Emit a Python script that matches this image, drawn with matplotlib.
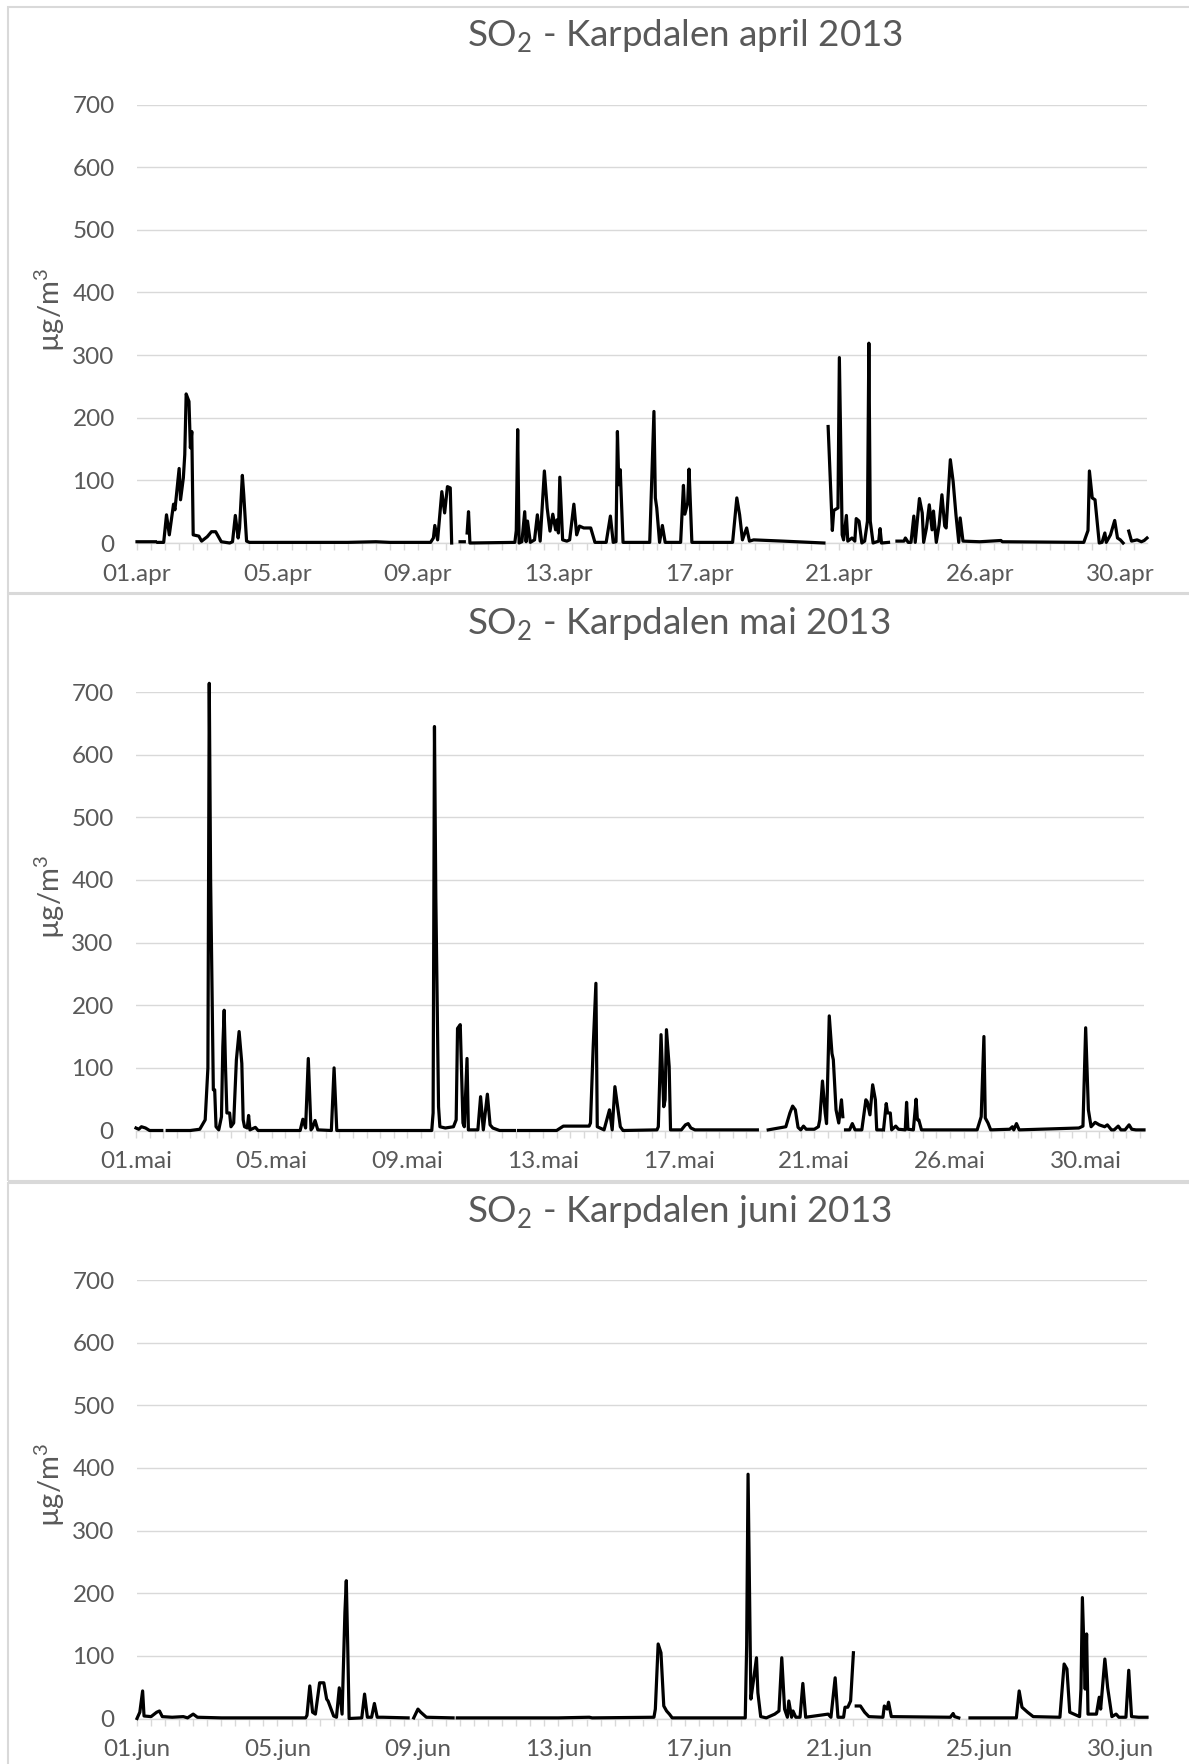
import numpy as np
import matplotlib
matplotlib.use("Agg")
import matplotlib.pyplot as plt
from matplotlib.patches import Rectangle

plt.rcParams['font.family'] = ['Lato', 'DejaVu Sans']

NA = np.nan

# ---------------- data (hour index from start of month, SO2 in ug/m3) ----------------
apr_hour = [0, 13, 14, 15, 19, 21, 23, 26, 27, 30, 31, 33, 34, 35, 37, 38, 39, 40, 44, 46, 50, 53, 56, 60,
            66, 68, 70, 72, 73, 75, 76, 78, 80, 150, 170, 180, 209, 211, 212, 214, 217, 219, 221, 223, 224,
            225, 230, 233, 234, 235, 236, 237, 269, 270, 271, 272, 274, 276, 277, 278, 280, 283, 285, 287,
            290, 292, 294, 296, 298, 299, 300, 301, 303, 306, 308, 311, 313, 315, 318, 323, 326, 334, 337,
            339, 341, 342, 343, 344, 346, 365, 368, 369, 370, 372, 374, 376, 387, 389, 390, 392, 393, 395,
            424, 427, 429, 431, 434, 436, 439, 460, 489, 490, 492, 495, 496, 499, 500, 502, 503, 505, 506,
            509, 511, 512, 514, 516, 518, 520, 521, 522, 524, 528, 529, 530, 535, 536, 541, 546, 547, 549,
            551, 553, 554, 557, 559, 560, 562, 564, 566, 567, 569, 571, 573, 575, 576, 579, 581, 583, 585,
            586, 588, 600, 615, 616, 674, 677, 678, 680, 682, 685, 687, 689, 690, 693, 696, 698, 700, 702,
            703, 706, 708, 712, 715, 717, 719]
apr_so2 = [2, 2, NA, 1, 1, 45, 13, 62, 53, 119, 69, 104, 141, 238, 226, 152, 178, 13, 11, 3, 10, 18, 18, 2,
           0, 2, 44, 8, 24, 108, 77, 3, 1, 1, 2, 1, 1, 8, 28, 5, 82, 48, 90, 88, 0,
           NA, 2, 2, NA, 16, 50, 0, 1, 20, 181, 0, 2, 50, 2, 35, 1, 5, 45, 3,
           115, 56, 19, 46, 21, 37, 16, 105, 5, 3, 5, 62, 13, 27, 24, 24, 1, 1, 43,
           1, 2, 178, 93, 117, 1, 1, 210, 72, 56, 1, 28, 1, 1, 92, 46, 64, 118, 1,
           1, 72, 45, 5, 24, 3, 5, 3, 0, NA, 186, 20, 52, 56, 296, 13, 5, 44, 3,
           8, 3, 39, 35, 0, 3, 35, 319, 35, 0, 3, 23, 0, 1, NA, 3, 3, 8, 1,
           1, 43, 1, 71, 48, 1, 24, 61, 21, 51, 1, 29, 77, 27, 24, 133, 98, 45, 1,
           40, 3, 2, 4, 2, 1, 20, 115, 72, 69, 0, 1, 16, 1, 13, 36, 8, 5, 0,
           NA, 19, 3, 5, 2, 4, 8]

mai_hour = [0, 2, 4, 7, 10, 19, 20, 23, 40, 47, 51, 53, 54, 55, 57, 58, 59, 61, 63, 64, 65, 66, 67, 69,
            70, 72, 74, 76, 78, 79, 80, 82, 83, 84, 88, 90, 121, 123, 125, 127, 129, 130, 132, 134, 144,
            146, 148, 218, 219, 220, 221, 223, 224, 228, 234, 236, 237, 239, 241, 242, 244, 245, 252, 254,
            256, 259, 261, 263, 268, 279, 280, 282, 310, 315, 334, 335, 337, 339, 340, 345, 349, 351, 353,
            355, 357, 359, 384, 385, 387, 389, 390, 391, 393, 394, 402, 405, 407, 409, 412, 458, 459, 466,
            474, 479, 482, 484, 486, 488, 490, 492, 494, 500, 503, 504, 506, 508, 509, 511, 513, 514, 516,
            518, 520, 521, 522, 523, 526, 528, 530, 535, 538, 539, 541, 543, 545, 546, 549, 550, 551, 553,
            554, 556, 557, 560, 562, 567, 568, 569, 573, 575, 576, 577, 579, 620, 623, 625, 626, 628, 630,
            644, 646, 647, 649, 651, 695, 698, 700, 702, 704, 707, 710, 714, 716, 719, 721, 724, 726, 729,
            732, 734, 737, 743]
mai_so2 = [4, 2, 6, 4, 0, 0, NA, 0, 0, 2, 17, 100, 714, 400, 65, 65, 6, 1, 22, 134, 192, 100, 28, 28,
           6, 12, 113, 158, 107, 17, 6, 4, 24, 1, 5, 0, 0, 18, 4, 115, 1, 4, 16, 1, 0,
           100, 0, 0, 28, 645, 373, 38, 6, 4, 6, 17, 163, 169, 12, 6, 115, 1, 1, 54,
           1, 58, 9, 4, 0, 0, NA, 0, 0, 7, 7, 12, 134, 235, 6, 1, 33, 1, 70,
           38, 6, 0, 1, 6, 153, 38, 49, 161, 102, 1, 1, 9, 11, 4, 1, 1, NA, 1,
           4, 6, 28, 39, 33, 5, 1, 7, 2, 2, 6, 17, 79, 28, 11, 183, 123, 113, 33,
           12, 49, 22, NA, 1, 1, 11, 1, 1, 49, 46, 25, 73, 49, 1, 1, NA, 1, 43,
           28, 28, 1, 7, 2, 1, 45, 2, 1, 50, 17, 17, 1, 1, 22, 150, 20, 12, 1,
           2, 6, 1, 11, 1, 4, 7, 164, 33, 6, 13, 9, 6, 9, 1, 1, 7, 1, 1,
           9, 2, 1, 1]

jun_hour = [0, 2, 4, 5, 10, 14, 16, 18, 25, 33, 36, 40, 43, 60, 120, 121, 123, 125, 127, 130, 133, 135,
            136, 140, 142, 144, 146, 148, 149, 150, 151, 160, 162, 164, 167, 169, 171, 175, 193, 194, 197,
            200, 202, 206, 225, 226, 228, 300, 322, 324, 368, 369, 371, 373, 375, 377, 379, 381, 433, 434,
            435, 437, 439, 441, 442, 444, 448, 454, 457, 459, 461, 463, 464, 466, 467, 469, 472, 474, 476,
            492, 494, 497, 499, 503, 504, 506, 508, 510, 511, 512, 515, 518, 521, 531, 532, 534, 535, 537,
            579, 581, 582, 585, 586, 593, 626, 628, 630, 634, 638, 657, 660, 662, 664, 671, 672, 673, 675,
            676, 677, 680, 683, 685, 686, 689, 691, 694, 697, 699, 704, 706, 708, 713, 719]
jun_so2 = [0, 10, 44, 4, 3, 10, 12, 3, 2, 3, 1, 7, 2, 1, 1, 5, 52, 10, 7, 57, 57, 31,
           28, 4, 2, 49, 7, 169, 220, 116, 0, 1, 39, 2, 2, 24, 2, 2, 1, NA, 1,
           15, 10, 2, 1, NA, 1, 1, 2, 1, 2, 15, 119, 105, 20, 12, 7, 1, 1, 116,
           390, 31, 63, 97, 41, 3, 1, 7, 12, 97, 15, 2, 28, 2, 12, 2, 2, 56, 2,
           7, 2, 65, 2, 2, 18, 18, 28, 105, NA, 20, 20, 10, 3, 2, 20, 15, 26, 3,
           2, 8, 3, 1, NA, 1, 1, 44, 18, 10, 3, 2, 87, 79, 10, 3, 47, 193, 47,
           135, 7, 7, 7, 34, 15, 95, 49, 3, 7, 2, 2, 77, 3, 2, 2]

apr_labels = ['01.apr', '05.apr', '09.apr', '13.apr', '17.apr', '21.apr', '26.apr', '30.apr']
mai_labels = ['01.mai', '05.mai', '09.mai', '13.mai', '17.mai', '21.mai', '26.mai', '30.mai']
jun_labels = ['01.jun', '05.jun', '09.jun', '13.jun', '17.jun', '21.jun', '25.jun', '30.jun']
n_hours = [720, 744, 720]
titles = ['april 2013', 'mai 2013', 'juni 2013']
y_ticks = [0, 100, 200, 300, 400, 500, 600, 700]

# ---------------- layout ----------------
W, H = 1189, 1764
fig = plt.figure(figsize=(W / 100, H / 100), dpi=100)
GREY = '#595959'
LIGHT = '#D9D9D9'

panel_offsets = [0, 587.5, 1175.5]
series = [(apr_hour, apr_so2, apr_labels), (mai_hour, mai_so2, mai_labels), (jun_hour, jun_so2, jun_labels)]
x_ranges = [(137, 1147), (136, 1144), (137, 1147)]

for k, ((hrs, vals, labels), off, n, ttl) in enumerate(zip(series, panel_offsets, n_hours, titles)):
    # chart border
    top_b = 7 + off
    bot_b = 593 + off if k < 2 else H + 20
    fig.patches.append(Rectangle((8 / W, 1 - bot_b / H), (1400 - 8) / W, (bot_b - top_b) / H,
                                 transform=fig.transFigure, fill=False, ec=LIGHT, lw=1.5))
    x0, x1 = x_ranges[k]
    y_top, y_bot = 104.6 + off, 543 + off
    ax = fig.add_axes([x0 / W, 1 - y_bot / H, (x1 - x0) / W, (y_bot - y_top) / H])
    ax.plot(hrs, vals, color='black', lw=2.3, clip_on=False, solid_joinstyle='round', zorder=3)
    ax.set_xlim(0, n - 1)
    ax.set_ylim(0, 700)
    ax.set_yticks(y_ticks)
    ax.set_xticks(np.arange(0, n, 100))
    ax.set_xticklabels(labels)
    ax.set_xticks(np.arange(0, n, 10), minor=True)
    ax.tick_params(axis='x', which='both', length=5, width=1, color=LIGHT, direction='out')
    ax.tick_params(axis='x', which='major', labelsize=17.5, labelcolor=GREY, pad=10)
    ax.tick_params(axis='y', length=0, labelsize=17.5, labelcolor=GREY, pad=16)
    ax.grid(axis='y', color=LIGHT, lw=1.0)
    ax.set_axisbelow(True)
    for s in ['top', 'right', 'left']:
        ax.spines[s].set_visible(False)
    ax.spines['bottom'].set_color(LIGHT)
    ax.spines['bottom'].set_linewidth(1.0)
    ax.patch.set_alpha(0)

    fig.text(467 / W, 1 - (47 + off) / H, 'SO$_\\mathregular{2}$ - Karpdalen ' + ttl,
             ha='left', va='baseline', fontsize=26.5, color=GREY)
    fig.text(50 / W, 1 - ((y_top + y_bot) / 2 - 14) / H, 'µg/m$^\\mathregular{3}$',
             rotation=90, ha='center', va='center', fontsize=21, color=GREY)

fig.savefig('out.png', dpi=100, facecolor='white')
